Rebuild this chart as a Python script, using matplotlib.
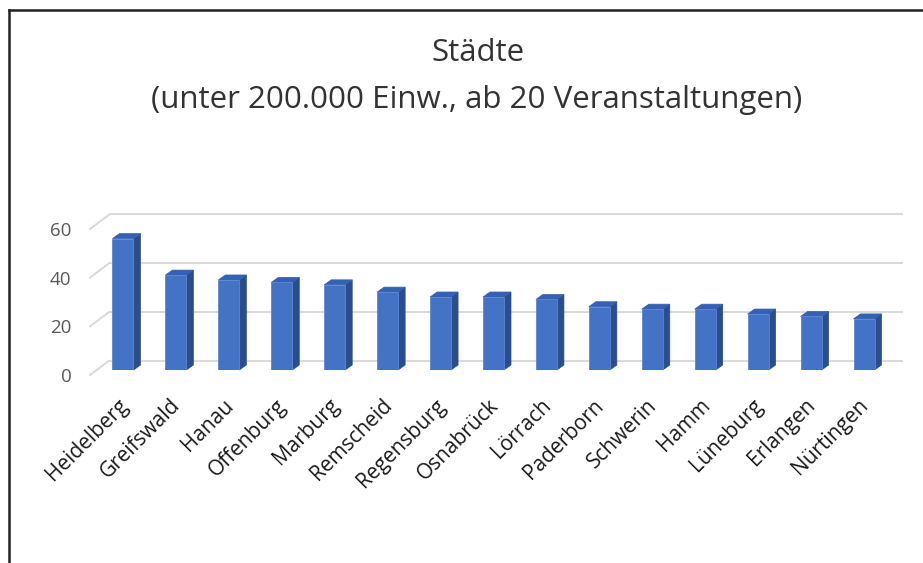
import matplotlib
matplotlib.use("Agg")
import matplotlib.pyplot as plt
from matplotlib.patches import Polygon
from matplotlib.lines import Line2D
from matplotlib.transforms import ScaledTranslation

# ---- data ----
cities = ["Heidelberg", "Greifswald", "Hanau", "Offenburg", "Marburg", "Remscheid",
          "Regensburg", "Osnabrück", "Lörrach", "Paderborn", "Schwerin", "Hamm",
          "Lüneburg", "Erlangen", "Nürtingen"]
events = [54, 39, 37, 36, 35, 32, 30, 30, 29, 26, 25, 25, 23, 22, 21]
yticks = [0, 20, 40, 60]
title_lines = ["Städte", "(unter 200.000 Einw., ab 20 Veranstaltungen)"]

FONT = ["Open Sans", "DejaVu Sans"]
plt.rcParams["font.family"] = FONT

W, H = 923, 563
DPI = 100
fig = plt.figure(figsize=(W / DPI, H / DPI), dpi=DPI)
fig.patch.set_facecolor("white")

def px_axes(left, top, right, bottom):
    return fig.add_axes([left / W, 1 - bottom / H, (right - left) / W, (bottom - top) / H])

YMAX = 60
# back wall (gridlines)
ax_back = px_axes(109, 214, 903, 360.7)
ax_back.set_ylim(0, YMAX)
ax_back.set_xlim(0, 1)
ax_back.axis("off")
ax_back.hlines(yticks, 0, 1, colors="#D9D9D9", linewidth=1.4, clip_on=False)

# front floor plane (tick labels + diagonal depth lines)
ax_front = px_axes(90, 229, 885, 375)
ax_front.set_ylim(0, YMAX)
ax_front.set_xlim(0, 1)
for s in ax_front.spines.values():
    s.set_visible(False)
ax_front.set_xticks([])
ax_front.set_yticks(yticks)
ax_front.tick_params(axis="y", length=0, pad=13.5, labelsize=13.5, labelcolor="#595959")
ax_front.patch.set_alpha(0)
depth_dy = (375 - 360.7) / (146 / YMAX)
depth_dx = 19 / 795
for v in yticks:
    ax_front.plot([0, depth_dx], [v, v + depth_dy], color="#D9D9D9", linewidth=1.4,
                  transform=ax_front.get_yaxis_transform(), clip_on=False)

# bars
ax = px_axes(90, 224, 885, 370)
ax.patch.set_alpha(0)
spacing = 52.93
ax.set_xlim(-(123 - 90) / spacing, 14 + (885 - 864) / spacing)
ax.set_ylim(0, YMAX)
for s in ax.spines.values():
    s.set_visible(False)
ax.set_yticks([])
bw = 21 / spacing
x = list(range(len(cities)))
ax.bar(x, events, width=bw, color="#4472C4", edgecolor="#5A86D6", linewidth=0.6, zorder=3)
dx = 7 / spacing
dy = 5 / (146 / YMAX)
for xi, v in zip(x, events):
    r = xi + bw / 2
    l = xi - bw / 2
    side = Polygon([(r, 0), (r + dx, dy), (r + dx, v + dy), (r, v)], closed=True,
                   facecolor="#2C4D8C", edgecolor="#2C4D8C", linewidth=0.5, zorder=2, clip_on=False)
    top = Polygon([(l, v), (l + dx, v + dy), (r + dx, v + dy), (r, v)], closed=True,
                  facecolor="#3461B3", edgecolor="#3461B3", linewidth=0.5, zorder=2, clip_on=False)
    ax.add_patch(side)
    ax.add_patch(top)
ax.set_xticks(x)
ax.set_xticklabels(cities, rotation=45, ha="right", va="top", rotation_mode="anchor",
                   fontsize=15, color="#1A1A1A")
ax.tick_params(axis="x", length=0, pad=18)
shift = ScaledTranslation(-6 / DPI, 0, fig.dpi_scale_trans)
for lbl in ax.get_xticklabels():
    lbl.set_transform(lbl.get_transform() + shift)

# title
fig.text(478 / W, 1 - 53 / H, title_lines[0], ha="center", va="center", fontsize=22.5, color="#333333")
fig.text(477 / W, 1 - 100 / H, title_lines[1], ha="center", va="center", fontsize=22.5, color="#333333")

# frame
fig.add_artist(Line2D([9 / W, 9 / W], [0, 1 - 10 / H], color="#222222", linewidth=1.8))
fig.add_artist(Line2D([9 / W, 1], [1 - 10 / H, 1 - 10 / H], color="#222222", linewidth=1.8))

fig.savefig("out.png", dpi=DPI, facecolor="white")
